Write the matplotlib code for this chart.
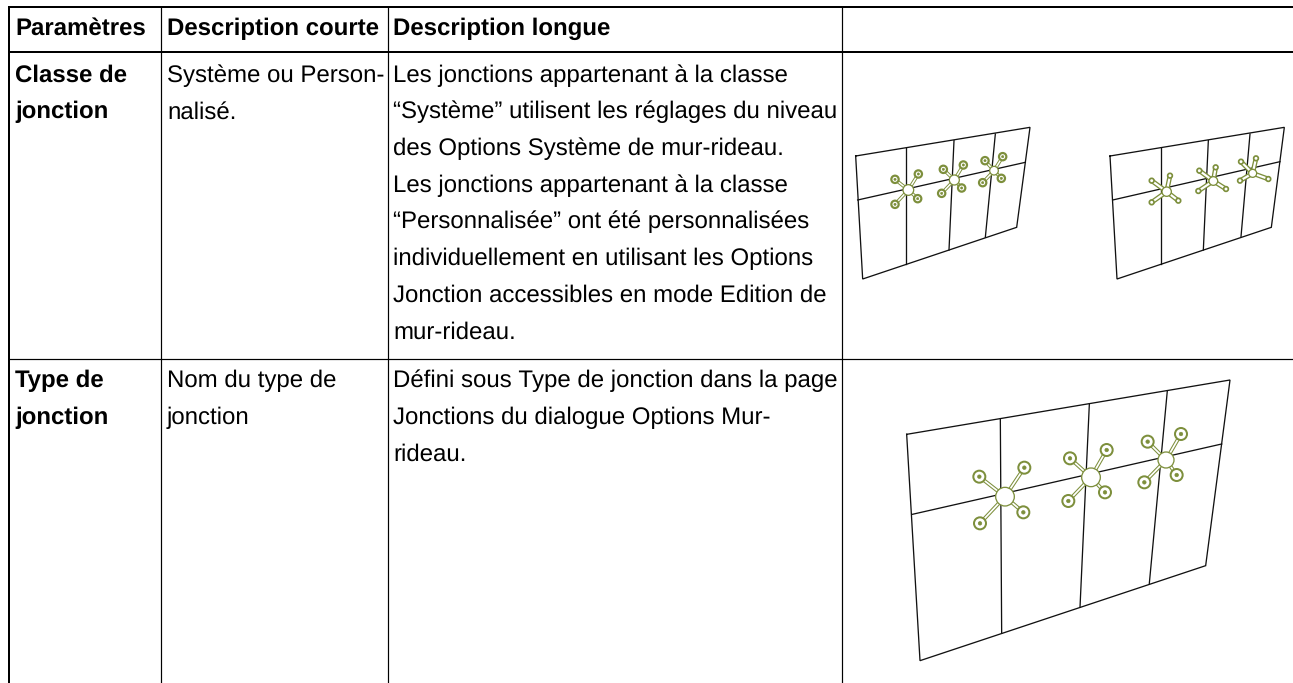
import matplotlib
matplotlib.use("Agg")
import matplotlib.pyplot as plt
from matplotlib.patches import Circle

plt.rcParams["text.hinting"] = "no_hinting"
plt.rcParams["text.hinting_factor"] = 1

W, H = 1293, 683
FS = 17.2
FS_BOLD = 17.0
FONT = "Liberation Sans"
BLACK = "#000000"
GREEN = "#7d8f3c"

headers = ["Paramètres", "Description courte", "Description longue"]
row1_param = ["Classe de", "jonction"]
row1_short = ["Système ou Person-", "nalisé."]
row1_long = ["Les jonctions appartenant à la classe",
             "“Système” utilisent les réglages du niveau",
             "des Options Système de mur-rideau.",
             "Les jonctions appartenant à la classe",
             "“Personnalisée” ont été personnalisées",
             "individuellement en utilisant les Options",
             "Jonction accessibles en mode Edition de",
             "mur-rideau."]
row2_param = ["Type de", "jonction"]
row2_short = ["Nom du type de", "jonction"]
row2_long = ["Défini sous Type de jonction dans la page",
             "Jonctions du dialogue Options Mur-",
             "rideau."]

col_x = [9, 160.5, 387.5, 841.5]
rule_top, rule_head, rule_mid = 6.7, 52, 359.3

draw1 = dict(origin=(840, 110),
    outer=[(47,138),(570,52),(530,352),(68,507),(47,138)],
    mid=[(53,270),(556,157)],
    verts=[[(199,115),(199,462)],[(342,92),(327,420)],[(466,72),(436,382)]],
    hubs=[(205,240,16),(343,210,15),(462,182,13)],
    ends=[[(165,208),(235,192),(165,283),(233,266)],
          [(310,178),(370,165),(305,250),(365,234)],
          [(435,152),(488,140),(428,218),(484,205)]],
    r=11, ring=2.2, core=0.3, spoke=3.4, stub=False)
draw2 = dict(origin=(1070, 110),
    outer=[(120,138),(643,52),(604,352),(141,507),(120,138)],
    mid=[(128,270),(630,155)],
    verts=[[(273,115),(273,463)],[(415,92),(400,420)],[(540,72),(513,380)]],
    hubs=[(290,245,14),(430,213,13),(548,190,12)],
    ends=[[(245,212),(300,197),(245,277),(325,272)],
          [(388,182),(437,172),(385,243),(468,237)],
          [(513,155),(558,145),(510,212),(595,207)]],
    r=7, ring=1.7, core=0.2, spoke=4.8, stub=True)
draw3 = dict(origin=(890, 370),
    outer=[(50,193),(1020,30),(947,587),(90,872),(50,193)],
    mid=[(67,433),(995,222)],
    verts=[[(331,148),(335,790)],[(598,103),(570,712)],[(832,62),(778,640)]],
    hubs=[(345,380,28),(603,322,28),(828,270,24)],
    ends=[[(268,320),(403,293),(270,460),(400,427)],
          [(540,265),(650,240),(535,393),(645,367)],
          [(773,215),(873,192),(763,337),(860,315)]],
    r=18, ring=2.0, core=0.3, spoke=3.8, stub=False)

fig = plt.figure(figsize=(W/100, H/100), dpi=100)
ax = fig.add_axes([0, 0, 1, 1])
ax.set_xlim(0, W); ax.set_ylim(H, 0); ax.axis("off")

def px(v):
    return v * 72 / 100

for y, lw in ((rule_top, 2), (rule_head, 2)):
    ax.plot([col_x[0]-1, W], [y, y], color=BLACK, lw=px(lw), solid_capstyle="butt")
ax.plot([col_x[0]-1, W], [rule_mid, rule_mid], color=BLACK, lw=px(1.2), solid_capstyle="butt")
for i, x in enumerate(col_x):
    ax.plot([x, x], [rule_top, H], color=BLACK, lw=px(2 if i == 0 else 1.2), solid_capstyle="butt")

def put(lines, x, y0, bold=False, step=36.7):
    for i, s in enumerate(lines):
        ax.text(x, y0 + i*step, s, fontsize=FS_BOLD if bold else FS, family=FONT,
                va="baseline", ha="left",
                fontweight="bold" if bold else "normal", color="black")

for s, x in zip(headers, (15, 167, 393)):
    put([s], x, 35, True)
put(row1_param, 15, 81.7, True)
put(row1_short, 167, 81.7)
put(row1_long, 393, 81.7)
put(row2_param, 15, 387, True)
put(row2_short, 167, 387)
put(row2_long, 393, 387)

def drawing(d):
    ox, oy = d["origin"]
    P = lambda p: (ox + p[0]/3, oy + p[1]/3)
    def line(pts, **kw):
        q = [P(p) for p in pts]
        ax.plot([a for a, _ in q], [b for _, b in q], **kw)
    black = dict(color="#111111", lw=px(1.3), solid_joinstyle="miter", zorder=2)
    line(d["outer"], **black)
    line(d["mid"], **black)
    for v in d["verts"]:
        line(v, **black)
    s = d["r"]/3
    for hub, ends in zip(d["hubs"], d["ends"]):
        hx, hy, hr = hub
        for e in ends:
            line([(hx, hy), e], color=GREEN, lw=px(d["spoke"]), zorder=3, solid_capstyle="butt")
            line([(hx, hy), e], color="white", lw=px(d["spoke"]*0.45), zorder=3.1, solid_capstyle="butt")
            ax.add_patch(Circle(P(e), s, fc="white", ec=GREEN, lw=px(d["ring"]), zorder=4))
            if not d["stub"]:
                ax.add_patch(Circle(P(e), s*d["core"], fc=GREEN, ec=GREEN, lw=px(0.6), zorder=4.1))
        ax.add_patch(Circle(P((hx, hy)), hr/3, fc="white", ec=GREEN, lw=px(1.3), zorder=5))

for d in (draw1, draw2, draw3):
    drawing(d)

fig.savefig("out.png", dpi=100, facecolor="white")
